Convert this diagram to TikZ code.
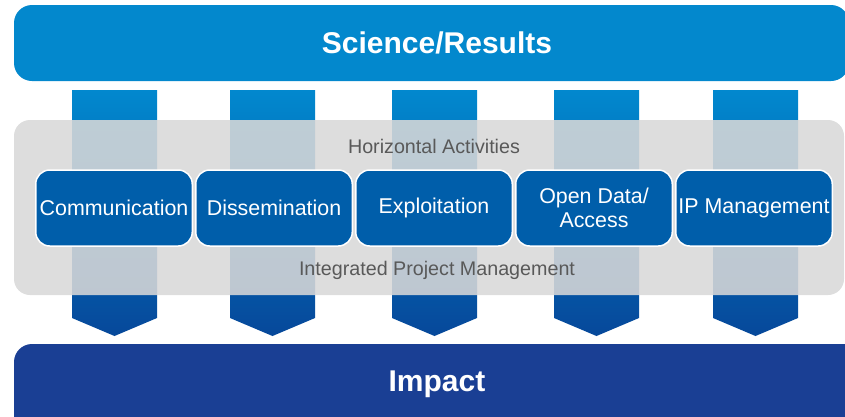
\documentclass[tikz,border=0pt]{standalone}
\usepackage{fontspec}
\setmainfont{Liberation Sans}
\usetikzlibrary{positioning}
\definecolor{sciblue}{HTML}{0388CD}
\definecolor{coltop}{HTML}{0288CE}
\definecolor{colbot}{HTML}{06489A}
\definecolor{bandgray}{HTML}{D8D8D8}
\definecolor{boxblue}{HTML}{005EAA}
\definecolor{impblue}{HTML}{1A3F94}
\definecolor{labgray}{HTML}{595959}

\begin{document}
\begin{tikzpicture}[x=1pt,y=-1pt,
	actbox/.style={rounded corners=14pt,fill=boxblue,draw=white,line width=1.5pt,minimum width=156.5pt,minimum height=76pt,inner sep=0pt,text=white,align=center,font=\fontsize{21.4}{24}\selectfont},
	title/.style={text=white,font=\fontsize{30}{34}\selectfont\bfseries},
	bandtext/.style={text=labgray,font=\fontsize{19.7}{22}\selectfont}]
		\useasboundingbox (0,0) rectangle (845,416);
		\clip (0,0) rectangle (845,416);

		\fill[sciblue,rounded corners=18pt] (14,5) rectangle (849,81);
		\fill[impblue,rounded corners=18pt] (14,344) rectangle (870,450);

		\foreach \x in {114.5,272.5,434.5,596.5,755.5}
			\shade[top color=coltop,bottom color=colbot] (\x-42.5,90) -- (\x+42.5,90) -- (\x+42.5,318) -- (\x,336) -- (\x-42.5,318) -- cycle;

		\fill[bandgray,fill opacity=0.88,rounded corners=16pt] (14,120) rectangle (844,295);

		\node[title]													(sci)	at (437,43)		{Science/Results};
		\node[title]													(imp)	at (437,384)	{Impact};
		\node[bandtext]													(hor)	at (434,146)	{Horizontal Activities};
		\node[bandtext]													(ipmt)	at (437,270)	{Integrated Project Management};

		\node[actbox]													(comm)	at (114,208)	{Communication};
		\node[actbox,node distance=2pt,right=of comm]				(diss)					{Dissemination};
		\node[actbox,node distance=2pt,right=of diss]				(expl)					{Exploitation};
		\node[actbox,node distance=2pt,right=of expl]				(open)					{Open Data/\\Access};
		\node[actbox,node distance=2pt,right=of open]				(ipm)					{IP Management};
	\end{tikzpicture}
\end{document}
